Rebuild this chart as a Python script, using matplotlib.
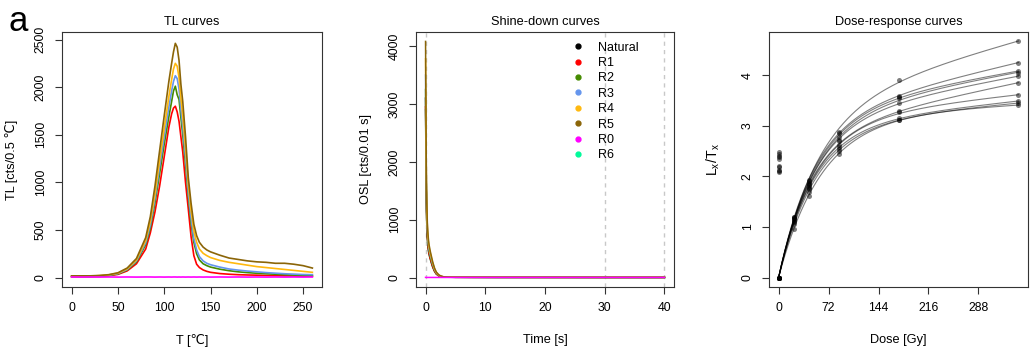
import numpy as np
import matplotlib
matplotlib.use("Agg")
import matplotlib.pyplot as plt

plt.rcParams['font.family'] = ['Liberation Sans', 'DejaVu Sans']
plt.rcParams['mathtext.fontset'] = 'custom'
plt.rcParams['mathtext.rm'] = 'Liberation Sans'
plt.rcParams['mathtext.it'] = 'Liberation Sans'

# ---------------- data ----------------
series_names = ["Natural", "R1", "R2", "R3", "R4", "R5", "R0", "R6"]
series_colors = ["#000000", "#FF0000", "#458B00", "#6495ED", "#FFB90F", "#8B6508", "#FF00FF", "#00FA9A"]

tl_temp = [0, 10, 20, 30, 40, 50, 60, 70, 80, 85, 90, 95, 100, 105, 108, 110, 112, 114, 116, 118,
           120, 123, 126, 129, 132, 135, 138, 142, 146, 150, 160, 170, 180, 190, 200, 210, 220, 230,
           240, 250, 260]
tl_R1 = [10, 10, 10, 13, 20, 33, 70, 145, 300, 470, 690, 960, 1270, 1580, 1720, 1780, 1800, 1740, 1640, 1480,
         1320, 1000, 720, 430, 230, 140, 105, 80, 65, 55, 42, 35, 30, 27, 25, 22, 20, 18, 16, 15, 14]
tl_R2 = [10, 10, 10, 14, 22, 38, 80, 165, 345, 520, 785, 1090, 1400, 1690, 1850, 1960, 2010, 1920, 1870, 1680,
         1500, 1190, 850, 570, 370, 250, 185, 145, 125, 110, 88, 72, 60, 52, 45, 40, 35, 30, 26, 22, 20]
tl_R3 = [12, 12, 12, 16, 25, 42, 85, 175, 365, 550, 830, 1160, 1480, 1790, 1960, 2060, 2120, 2090, 1980, 1770,
         1590, 1260, 900, 620, 410, 290, 220, 175, 150, 135, 110, 90, 78, 68, 60, 52, 46, 40, 36, 32, 30]
tl_R4 = [15, 15, 15, 20, 28, 46, 92, 185, 390, 590, 880, 1230, 1570, 1900, 2080, 2190, 2250, 2220, 2100, 1880,
         1700, 1360, 980, 700, 490, 370, 300, 255, 230, 210, 180, 160, 145, 130, 115, 105, 95, 85, 75, 65, 55]
tl_R5 = [18, 18, 18, 22, 30, 50, 100, 200, 420, 640, 960, 1330, 1700, 2060, 2250, 2370, 2460, 2420, 2280, 2030,
         1850, 1480, 1050, 780, 560, 440, 370, 320, 290, 270, 235, 205, 190, 175, 165, 160, 150, 150, 140, 125, 100]
tl_R0 = [6, 5, 6, 5, 6, 5, 6, 5, 6, 6, 5, 6, 5, 6, 5, 6, 6, 5, 6, 5,
         6, 5, 6, 5, 6, 5, 6, 5, 6, 5, 6, 5, 6, 5, 6, 5, 6, 5, 6, 5, 6]

osl_time = [0, 0.04, 0.08, 0.12, 0.16, 0.2, 0.3, 0.4, 0.5, 0.6, 0.8, 1.0, 1.2, 1.5, 1.8, 2.2, 2.6, 3.0,
            4, 5, 8, 12, 20, 30, 40]
osl_Natural = [3100, 2510, 1980, 1560, 1210, 990, 720, 575, 485, 420, 335, 265, 195, 118, 68, 34, 18, 10, 6, 5, 4, 3, 3, 2, 2]
osl_R1 = [2950, 2390, 1880, 1480, 1150, 930, 680, 540, 455, 395, 315, 245, 180, 108, 60, 30, 16, 9, 6, 4, 3, 3, 2, 2, 2]
osl_R2 = [3250, 2630, 2070, 1630, 1270, 1030, 755, 600, 510, 445, 355, 280, 210, 128, 74, 37, 19, 11, 6, 5, 4, 3, 3, 2, 2]
osl_R3 = [3500, 2840, 2230, 1760, 1370, 1110, 815, 650, 550, 480, 385, 305, 230, 140, 80, 40, 21, 12, 7, 5, 4, 3, 3, 3, 2]
osl_R4 = [3780, 3060, 2410, 1900, 1480, 1200, 880, 700, 590, 515, 415, 330, 250, 150, 88, 44, 23, 13, 7, 5, 4, 4, 3, 3, 3]
osl_R5 = [4080, 3300, 2600, 2050, 1600, 1300, 950, 760, 640, 560, 450, 360, 270, 165, 95, 48, 25, 14, 8, 6, 5, 4, 4, 3, 3]
osl_R0 = [3, 3, 2, 2, 2, 2, 2, 2, 2, 2, 2, 2, 2, 2, 2, 2, 2, 2, 2, 2, 2, 2, 2, 2, 2]
osl_R6 = [2900, 2350, 1850, 1450, 1130, 915, 670, 530, 448, 390, 310, 240, 177, 106, 59, 29, 15, 9, 5, 4, 3, 3, 2, 2, 2]
osl_limits = [0, 30, 40]

doses = [0, 21.6, 43.2, 86.4, 172.8, 345.6]
lxtx_A = [0, 1.20, 1.92, 2.88, 3.90, 4.67]
lxtx_B = [0, 1.19, 1.90, 2.85, 3.60, 4.25]
lxtx_C = [0, 1.18, 1.88, 2.78, 3.57, 4.08]
lxtx_D = [0, 1.17, 1.86, 2.70, 3.55, 4.05]
lxtx_E = [0, 1.15, 1.84, 2.72, 3.45, 3.98]
lxtx_F = [0, 1.14, 1.80, 2.62, 3.30, 3.85]
lxtx_G = [0, 1.12, 1.78, 2.58, 3.27, 3.61]
lxtx_H = [0, 1.10, 1.75, 2.55, 3.15, 3.49]
lxtx_I = [0, 1.05, 1.70, 2.50, 3.12, 3.45]
lxtx_J = [0, 0.97, 1.61, 2.44, 3.11, 3.41]
natural_lxtx = [2.48, 2.44, 2.41, 2.38, 2.35, 2.21, 2.19, 2.12, 2.10, 2.08]

# ---------------- figure ----------------
W, H = 1030, 349
fig = plt.figure(figsize=(W / 100, H / 100), dpi=100)

def ax_at(l, r, t, b):
    return fig.add_axes([l / W, 1 - b / H, (r - l) / W, (b - t) / H])

TICK_FS = 8.8
LAB_FS = 9.2

def style(ax):
    for s in ax.spines.values():
        s.set_linewidth(0.8)
        s.set_color("#333333")
    ax.tick_params(direction='out', length=5, width=0.8, labelsize=TICK_FS, pad=6, color="#333333")
    for lab in ax.get_yticklabels():
        lab.set_rotation(90)
        lab.set_va('center')

def rpad(lo, hi):
    d = (hi - lo) * 0.04
    return lo - d, hi + d

# Panel 1: TL curves
ax1 = ax_at(62, 322, 32, 287)
tl_series = [("R1", tl_R1), ("R2", tl_R2), ("R3", tl_R3), ("R4", tl_R4), ("R5", tl_R5), ("R0", tl_R0)]
for name, vals in tl_series:
    ax1.plot(tl_temp, vals, color=series_colors[series_names.index(name)], lw=1.2)
ax1.set_xlim(*rpad(0, 260))
ax1.set_ylim(*rpad(0, 2480))
ax1.set_xticks([0, 50, 100, 150, 200, 250])
ax1.set_yticks([0, 500, 1000, 1500, 2000, 2500])
ax1.set_title("TL curves", fontsize=LAB_FS, pad=5)
ax1.set_xlabel("T [\u2103]", fontsize=LAB_FS, labelpad=14)
ax1.set_ylabel("TL [cts/0.5 \u2103]", fontsize=LAB_FS, labelpad=12)
style(ax1)
fig.text(9 / W, 1 - 31 / H, "a", fontsize=25, ha='left', va='baseline')

# Panel 2: Shine-down curves
ax2 = ax_at(416, 674, 32, 287)
for x in osl_limits:
    ax2.axvline(x, color="#C8C8C8", lw=1.0, ls=(0, (3, 3)), zorder=0)
osl_map = {"Natural": osl_Natural, "R1": osl_R1, "R2": osl_R2, "R3": osl_R3, "R4": osl_R4,
           "R5": osl_R5, "R0": osl_R0, "R6": osl_R6}
draw_order = ["R6", "Natural", "R1", "R2", "R3", "R4", "R5", "R0"]
for name in draw_order:
    ax2.plot(osl_time, osl_map[name], color=series_colors[series_names.index(name)], lw=1.1)
handles = [plt.Line2D([], [], ls='none', marker='o', ms=3.5, color=c) for c in series_colors]
ax2.legend(handles, series_names, loc='upper left', bbox_to_anchor=(0.604, 0.962), frameon=False,
           fontsize=9.0, handlelength=1.0, handletextpad=1.1, labelspacing=0.27, borderpad=0,
           borderaxespad=0)
ax2.set_xlim(*rpad(0, 40))
ax2.set_ylim(*rpad(0, 4080))
ax2.set_xticks([0, 10, 20, 30, 40])
ax2.set_yticks([0, 1000, 2000, 3000, 4000])
ax2.set_title("Shine-down curves", fontsize=LAB_FS, pad=5)
ax2.set_xlabel("Time [s]", fontsize=LAB_FS, labelpad=14)
ax2.set_ylabel("OSL [cts/0.01 s]", fontsize=LAB_FS, labelpad=12)
style(ax2)

# Panel 3: Dose-response curves
ax3 = ax_at(769, 1028, 32, 287)
aliquots = [lxtx_A, lxtx_B, lxtx_C, lxtx_D, lxtx_E, lxtx_F, lxtx_G, lxtx_H, lxtx_I, lxtx_J]
D = np.array(doses)
dgrid = np.linspace(0, max(doses), 300)
for vals in aliquots:
    y = np.array(vals)
    best = None
    for d0 in np.linspace(10, 600, 591):
        X = np.column_stack([1 - np.exp(-D / d0), D])
        coef, *_ = np.linalg.lstsq(X, y, rcond=None)
        if coef[1] < 0:
            X1 = X[:, :1]
            c1, *_ = np.linalg.lstsq(X1, y, rcond=None)
            coef = np.array([c1[0], 0.0])
        res = np.sum((X @ coef - y) ** 2)
        if best is None or res < best[0]:
            best = (res, d0, coef)
    _, d0, coef = best
    fit = coef[0] * (1 - np.exp(-dgrid / d0)) + coef[1] * dgrid
    ax3.plot(dgrid, fit, color='black', alpha=0.5, lw=0.8)
    ax3.plot(D, y, ls='none', marker='o', ms=3.6, mew=0, color='black', alpha=0.5)
ax3.plot(np.zeros(len(natural_lxtx)), natural_lxtx, ls='none', marker='o', ms=3.6, mew=0,
         color='black', alpha=0.5)
ax3.set_xlim(*rpad(0, max(doses)))
ax3.set_ylim(*rpad(0, 4.67))
ax3.set_xticks([0, 72, 144, 216, 288])
ax3.set_yticks([0, 1, 2, 3, 4])
ax3.set_title("Dose-response curves", fontsize=LAB_FS, pad=5)
ax3.set_xlabel("Dose [Gy]", fontsize=LAB_FS, labelpad=14)
ax3.set_ylabel(r"$\mathrm{L_x/T_x}$", fontsize=LAB_FS + 1, labelpad=14)
style(ax3)

fig.savefig("out.png", dpi=100)
